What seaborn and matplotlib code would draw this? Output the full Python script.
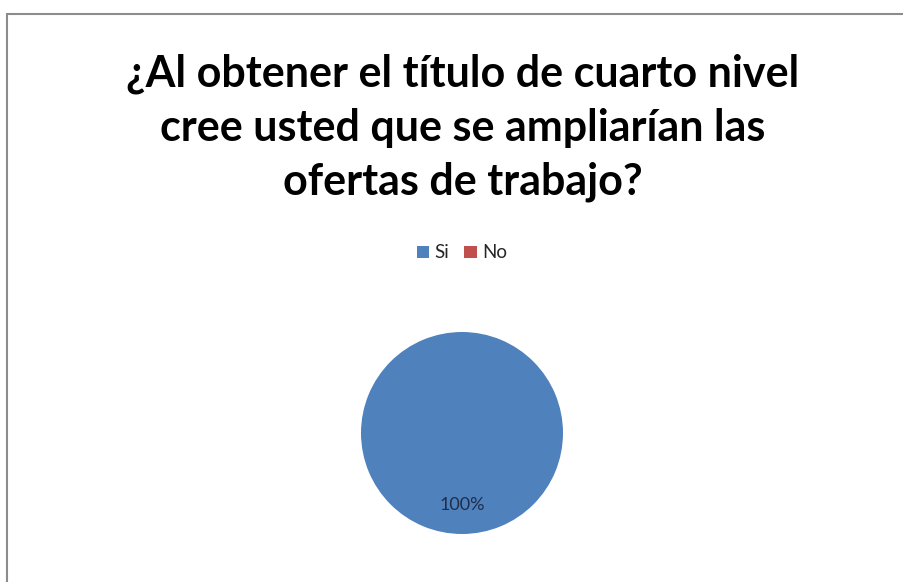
import matplotlib
matplotlib.use("Agg")
import matplotlib.pyplot as plt
import seaborn as sns
from matplotlib.patches import Rectangle, Patch

categories = ["Si", "No"]
values = [100, 0]
title = "¿Al obtener el título de cuarto nivel\ncree usted que se ampliarían las\nofertas de trabajo?"

sns.set_theme(style="white")
plt.rcParams['font.family'] = ['Lato', 'DejaVu Sans']
colors = ["#4F81BD", "#C0504D"]

W, H = 904, 582
fig = plt.figure(figsize=(W/100, H/100), dpi=100)
fig.patch.set_facecolor("white")

# chart frame
fig.patches.append(Rectangle((7/W, -0.1), 1.2, (H-14)/H + 0.1, transform=fig.transFigure,
                             fill=False, edgecolor="#8c8c8c", linewidth=1.5))

fig.text(463/W, 1 - 128/H, title, ha="center", va="center", fontsize=31,
         fontweight="bold", color="black", linespacing=1.42)

r = 101
cx, cy = 462, 433
ax = fig.add_axes([(cx - r)/W, 1 - (cy + r)/H, 2*r/W, 2*r/H])

def fmt(p):
    return f"{p:.0f}%" if p > 0.5 else ""

wedges, texts, autotexts = ax.pie(values, colors=colors, startangle=90, counterclock=False,
                                  autopct=fmt, pctdistance=0.71,
                                  wedgeprops=dict(linewidth=0, edgecolor="none"),
                                  textprops=dict(fontsize=13, color="#1f2d4a"))
ax.set_xlim(-1, 1)
ax.set_ylim(-1, 1)
ax.set_aspect("equal")

handles = [Patch(facecolor=c, edgecolor="none") for c in colors]
fig.legend(handles, categories, loc="center", bbox_to_anchor=(462/W, 1 - 253/H), ncol=2,
           frameon=False, fontsize=13.5, handlelength=0.65, handleheight=0.65,
           handletextpad=0.3, columnspacing=0.8)

fig.savefig("out.png", dpi=100)
